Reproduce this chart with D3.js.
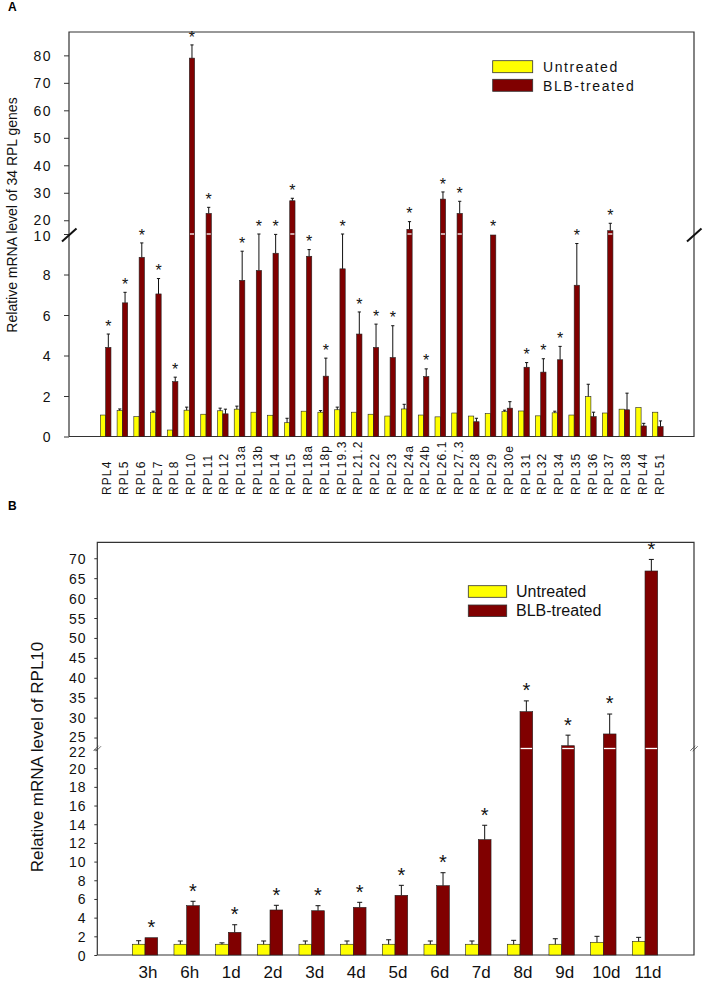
<!DOCTYPE html>
<html><head><meta charset="utf-8">
<script src="https://cdn.jsdelivr.net/npm/d3@7"></script>
<style>
html,body{margin:0;padding:0;background:#fff;}
text{font-family:"Liberation Sans",Arial,sans-serif;}
</style></head>
<body>
<svg id="chart" width="708" height="984"></svg>
<script>
// ---------- Panel A data ----------
const catsA = ["RPL4","RPL5","RPL6","RPL7","RPL8","RPL10","RPL11","RPL12","RPL13a","RPL13b","RPL14","RPL15","RPL18a","RPL18p","RPL19.3","RPL21.2","RPL22","RPL23","RPL24a","RPL24b","RPL26.1","RPL27.3","RPL28","RPL29","RPL30e","RPL31","RPL32","RPL34","RPL35","RPL36","RPL37","RPL38","RPL44","RPL51"];
const untreatedA   = [1.06,1.28,0.98,1.18,0.32,1.30,1.10,1.27,1.35,1.20,1.05,0.68,1.25,1.20,1.32,1.20,1.10,1.01,1.36,1.06,0.97,1.16,1.01,1.13,1.23,1.26,1.02,1.17,1.06,1.97,1.16,1.35,1.43,1.20];
const untreatedSdA = [0.04,0.08,0.02,0.07,0.02,0.15,0.04,0.13,0.15,0.05,0.03,0.22,0.05,0.08,0.13,0.05,0.04,0.04,0.23,0.04,0.03,0.04,0.04,0.04,0.07,0.06,0.04,0.08,0.04,0.61,0.06,0.05,0.04,0.06];
const blbA   = [4.40,6.60,8.85,7.04,2.71,79.0,22.5,1.12,7.71,8.20,9.05,27.1,8.90,2.98,8.28,5.06,4.40,3.90,16.7,2.96,27.7,22.5,0.73,9.95,1.40,3.42,3.18,3.79,7.47,0.98,16.2,1.32,0.52,0.49];
const blbSdA = [0.66,0.52,0.71,0.76,0.22,4.8,2.2,0.23,1.44,1.80,0.93,0.9,0.33,0.89,1.72,1.09,1.15,1.57,2.8,0.38,2.6,4.4,0.17,0.05,0.32,0.23,0.66,0.66,2.06,0.22,2.7,0.82,0.13,0.28];
const sigA = [1,1,1,1,1,1,1,0,1,1,1,1,1,1,1,1,1,1,1,1,1,1,0,1,0,1,1,1,1,0,1,0,0,0];
const ticksLowA = [0,2,4,6,8,10];
const ticksHighA = [20,30,40,50,60,70,80];

// ---------- Panel B data ----------
const catsB = ["3h","6h","1d","2d","3d","4d","5d","6d","7d","8d","9d","10d","11d"];
const untreatedB   = [1.15,1.15,1.15,1.15,1.15,1.15,1.15,1.15,1.15,1.15,1.15,1.36,1.46];
const untreatedSdB = [0.38,0.35,0.15,0.35,0.35,0.35,0.48,0.35,0.35,0.42,0.59,0.64,0.43];
const blbB   = [1.85,5.28,2.43,4.82,4.74,5.10,6.39,7.42,12.35,31.5,22.95,25.9,66.8];
const blbSdB = [0.05,0.47,0.81,0.50,0.54,0.54,1.07,1.39,1.54,2.7,2.65,5.0,2.9];
const sigB = [1,1,1,1,1,1,1,1,1,1,1,1,1];
const ticksLowB = [0,2,4,6,8,10,12,14,16,18,20,22];
const ticksHighB = [25,30,35,40,45,50,55,60,65,70];

const seriesNames = ["Untreated","BLB-treated"];
const colors = {"Untreated":"#ffff00","BLB-treated":"#800000"};

const svg = d3.select("#chart");

function panel(cfg){
  const g = svg.append("g");
  const x0 = d3.scaleBand().domain(cfg.cats).range(cfg.xr).paddingInner(cfg.pad).paddingOuter(cfg.pad/2);
  const x1 = d3.scaleBand().domain(seriesNames).range([0,x0.bandwidth()]);
  const y = cfg.y;
  const L = cfg.left, R = cfg.right, T = y.range()[y.range().length-1], B = y(0);

  const ax = g.append("g").attr("transform",`translate(${L},0)`)
    .call(d3.axisLeft(y).tickValues(cfg.ticks).tickSize(cfg.tickSize).tickPadding(cfg.tickPad).tickFormat(d3.format("d")));
  ax.select(".domain").remove();
  ax.selectAll("line").attr("stroke","#333");
  ax.selectAll("text").attr("font-size",cfg.tickFont).attr("letter-spacing",cfg.tickLS).attr("fill","#111")
    .attr("font-family",'"Liberation Sans",Arial,sans-serif')
    .attr("dy",d=>(cfg.nudge[d]||0)+"px").attr("dominant-baseline","central");

  g.append("path").attr("d",`M${L},${B}V${T}H${R}V${B}H${L}`).attr("fill","none").attr("stroke","#333").attr("stroke-width",1.2);

  const rows = cfg.cats.map((c,i)=>({c,i,
    vals:[{s:"Untreated",v:cfg.u[i],sd:cfg.usd[i]},{s:"BLB-treated",v:cfg.b[i],sd:cfg.bsd[i]}]}));
  const grp = g.selectAll(".grp").data(rows).join("g").attr("transform",d=>`translate(${x0(d.c)},0)`);
  const bar = grp.selectAll(".bar").data(d=>d.vals).join("g");
  bar.append("rect")
    .attr("x",d=>x1(d.s)).attr("width",x1.bandwidth())
    .attr("y",d=>y(d.v)).attr("height",d=>y(0)-y(d.v))
    .attr("fill",d=>colors[d.s]).attr("stroke","#222").attr("stroke-width",0.6);
  bar.filter(d=>d.v>cfg.brk).append("line")
    .attr("x1",d=>x1(d.s)+0.6).attr("x2",d=>x1(d.s)+x1.bandwidth()-0.6)
    .attr("y1",y(cfg.brk)+cfg.brkOff).attr("y2",y(cfg.brk)+cfg.brkOff)
    .attr("stroke","#fff").attr("stroke-width",1.3);
  bar.filter(d=>d.sd>0.06).append("path")
    .attr("d",d=>{const cx=x1(d.s)+x1.bandwidth()/2, yt=y(d.v+d.sd);
      return `M${cx},${y(d.v)}V${yt}M${cx-cfg.cap},${yt}H${cx+cfg.cap}`;})
    .attr("stroke","#111").attr("stroke-width",1).attr("fill","none");
  grp.filter(d=>cfg.sig[d.i]).append("text")
    .attr("x",x1("BLB-treated")+x1.bandwidth()/2)
    .attr("y",d=>y(d.vals[1].v+d.vals[1].sd)-cfg.starGap+cfg.starFont*0.57)
    .attr("text-anchor","middle").attr("font-size",cfg.starFont).attr("fill","#111").text("*");
  return {g,x0,x1,y};
}

// ----- Panel A -----
const yA = d3.scaleLinear().domain([0,10,15,88.5]).range([436.5,234,234,32]);
const A = panel({cats:catsA,xr:[97.3,666.2],pad:0.366,y:yA,left:69,right:694,
  ticks:ticksLowA.concat(ticksHighA),tickSize:5,tickPad:12,tickFont:14,tickLS:1.5,nudge:{10:1,20:-1},
  u:untreatedA,usd:untreatedSdA,b:blbA,bsd:blbSdA,sig:sigA,brk:10,brkOff:0,cap:1.6,
  starFont:16,starGap:11.5});
A.g.append("g").selectAll("text").data(catsA).join("text")
  .attr("transform",d=>`translate(${A.x0(d)+A.x0.bandwidth()/2+1.5},495) rotate(-90)`)
  .attr("dy","0.35em").attr("font-size",12).attr("letter-spacing",1.1).attr("fill","#111").text(d=>d);
[69,694].forEach(xx=>{
  A.g.append("line").attr("x1",xx-7).attr("y1",yA(10)+7.5).attr("x2",xx+7.5).attr("y2",yA(10)-5.5)
    .attr("stroke","#111").attr("stroke-width",2);
});
A.g.append("text").attr("transform","translate(17,215) rotate(-90)").attr("text-anchor","middle")
  .attr("font-size",14).attr("fill","#111").text("Relative mRNA level of 34 RPL genes");
const legA = A.g.append("g");
seriesNames.forEach((s,i)=>{
  legA.append("rect").attr("x",492.7).attr("y",60.7+i*18.6).attr("width",40).attr("height",12)
    .attr("fill",colors[s]).attr("stroke","#333").attr("stroke-width",0.8);
  legA.append("text").attr("x",543).attr("y",72.3+i*18.4).attr("font-size",14).attr("letter-spacing",1.6)
    .attr("fill","#111").text(s);
});
svg.append("text").attr("x",8).attr("y",11).attr("font-size",12).attr("font-weight","bold").text("A");

// ----- Panel B -----
const yB = d3.scaleLinear().domain([0,22,74]).range([955,749.5,542.3]);
const Bp = panel({cats:catsB,xr:[124.17,665.83],pad:0.39,y:yB,left:97.3,right:694,
  ticks:ticksLowB.concat(ticksHighB),tickSize:3,tickPad:8,tickFont:14,tickLS:0.8,nudge:{22:1.5,25:-1.5},
  u:untreatedB,usd:untreatedSdB,b:blbB,bsd:blbSdB,sig:sigB,brk:22,brkOff:-1,cap:2.5,
  starFont:20,starGap:15});
Bp.g.append("g").selectAll("text").data(catsB).join("text")
  .attr("x",d=>Bp.x0(d)+Bp.x0.bandwidth()/2+3).attr("y",978)
  .attr("text-anchor","middle").attr("font-size",17).attr("fill","#111").text(d=>d);
[97.3,694].forEach(xx=>{
  [-1.2,1.2].forEach(o=>{
    Bp.g.append("line").attr("x1",xx-2.5+o).attr("y1",yB(22)-1+2.5+o*0.2).attr("x2",xx+2.5+o).attr("y2",yB(22)-1-2.5+o*0.2)
      .attr("stroke","#444").attr("stroke-width",0.8);
  });
});
Bp.g.append("text").attr("transform","translate(43,757) rotate(-90)").attr("text-anchor","middle")
  .attr("font-size",17).attr("fill","#111").text("Relative mRNA level of RPL10");
const legB = Bp.g.append("g");
seriesNames.forEach((s,i)=>{
  legB.append("rect").attr("x",468.3).attr("y",585.7+i*19.3).attr("width",38.4).attr("height",11.6)
    .attr("fill",colors[s]).attr("stroke","#333").attr("stroke-width",0.8);
  legB.append("text").attr("x",516).attr("y",597+i*18.6).attr("font-size",16).attr("fill","#111").text(s);
});
svg.append("text").attr("x",8).attr("y",510).attr("font-size",12).attr("font-weight","bold").text("B");
</script>
</body></html>
